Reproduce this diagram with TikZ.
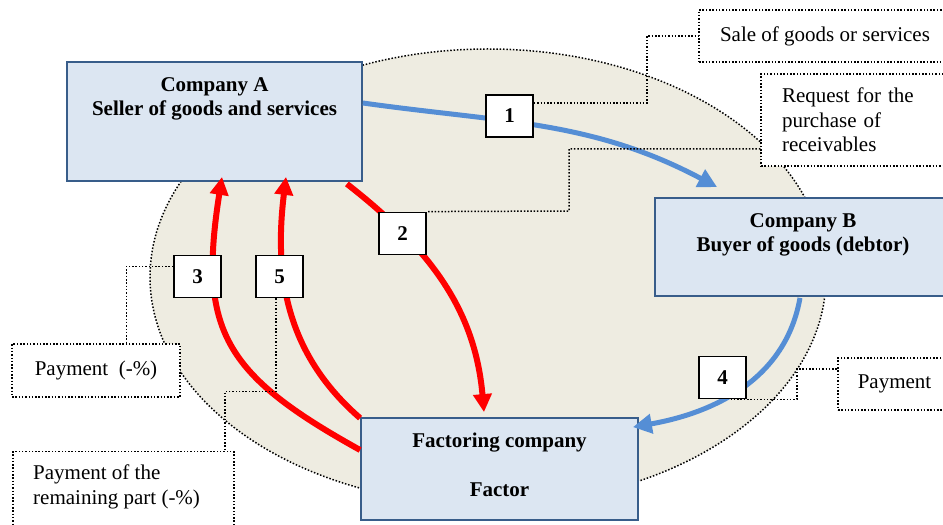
\documentclass[tikz,border=0pt]{standalone}
\usepackage{fontspec}
\setmainfont{Liberation Serif}
\usetikzlibrary{positioning,arrows.meta}

\definecolor{boxfill}{RGB}{220,230,242}
\definecolor{boxline}{RGB}{56,93,138}
\definecolor{ovalfill}{RGB}{238,236,225}
\definecolor{flowblue}{RGB}{85,142,213}

\begin{document}
\begin{tikzpicture}[x=1pt, y=1pt,
  company/.style={draw=boxline, fill=boxfill, line width=1.8pt, inner sep=0pt},
  boxtitle/.style={inner sep=0pt, align=center, font=\fontsize{21}{24.5}\selectfont\bfseries},
  numbox/.style={draw, fill=white, line width=1.8pt, minimum width=47pt, minimum height=42pt, inner sep=0pt, font=\fontsize{21}{24.5}\selectfont\bfseries},
  note/.style={draw, fill=white, line width=1.5pt, dash pattern=on 1.5pt off 1.8pt, font=\fontsize{21}{24.5}\selectfont},
  lead/.style={line width=1.5pt, dash pattern=on 1.5pt off 1.8pt},
  bluearrow/.style={flowblue, line width=5pt, -{Triangle[length=19pt, width=19pt]}},
  redarrow/.style={red, line width=6pt, -{Triangle[length=18pt, width=18pt]}}]

\useasboundingbox (0,0) rectangle (943,525);

% oval in the back
\draw [lead, fill=ovalfill] (488,248) ellipse [x radius=338, y radius=228];

% the three companies
\node [company, minimum width=295pt, minimum height=119pt] (compA) at (214.5,403.5) {};
\node [boxtitle, below=16pt of compA.north] (compAtext) {Company A\\Seller of goods and services};

\node [company, minimum width=296pt, minimum height=98pt] (compB) at (803,278) {};
\node [boxtitle, below=16pt of compB.north] (compBtext) {Company B\\Buyer of goods (debtor)};

\node [company, minimum width=277pt, minimum height=102pt] (factor) at (499.5,56) {};
\node [boxtitle, below=16pt of factor.north] (factortext) {Factoring company\\[24.5pt]Factor};

% flows
\draw [bluearrow] ([yshift=18.5pt]compA.east) to[out=-8, in=152] ([xshift=63pt, yshift=10pt]compB.north west);
\draw [bluearrow] ([xshift=-3pt, yshift=-1pt]compB.south) to[out=-100, in=10] ([xshift=-6pt, yshift=-10pt]factor.north east);
\draw [redarrow] ([xshift=-16pt, yshift=-2pt]compA.south east) to[out=-38, in=95] ([xshift=-15.5pt, yshift=5pt]factor.north);
\draw [redarrow] ([yshift=19pt]factor.west) to[out=151, in=-99, looseness=1.3] ([xshift=7.5pt, yshift=5pt]compA.south);
\draw [redarrow] ([yshift=-1pt]factor.north west) to[out=139, in=-97] ([xshift=71.5pt, yshift=5pt]compA.south);

% step numbers
\node [numbox] (n1) at (509.5,409) {1};
\node [numbox] (n2) at (402.5,291.5) {2};
\node [numbox] (n3) at (197.5,248.5) {3};
\node [numbox] (n5) at (279.5,248.5) {5};
\node [numbox] (n4) at (722.5,147.5) {4};

% explanations
\node [note, minimum width=252pt, minimum height=52pt] (sale) at (825,489) {Sale of goods or services};
\node [note, minimum height=92pt, text width=150pt, align=left, inner xsep=21pt] (request) at (857,405) {Request for the\\purchase of\\receivables};
\node [note, minimum width=168pt, minimum height=53pt] (pay3) at (96,154.5) {Payment\ \ (-\%)};
\node [note, minimum width=113pt, minimum height=52pt] (pay4) at (894.5,141) {Payment};
\node [note, anchor=north west, minimum width=221pt, minimum height=100pt] (pay5box) at (12,74) {};
\node [anchor=north west, inner sep=0pt, align=left, font=\fontsize{21}{24.5}\selectfont] (pay5) at ([xshift=21pt, yshift=-14pt]pay5box.north west) {Payment of the\\remaining part (-\%)};

\draw [lead] ([yshift=13pt]n1.east) -- (647,422) |- (sale.west);
\draw [lead] ([yshift=-29pt]request.west) -| (569,314) -- (n2.north east);
\draw [lead] ([yshift=10pt]n3.west) -| ([xshift=115pt]pay3.north west);
\draw [lead] ([xshift=-3.5pt]n5.south) -- ++(0,-93) -| ([xshift=213pt]pay5box.north west);
\draw [lead] ([xshift=8pt]n4.south) -- ++(66.5,0) |- ([yshift=15pt]pay4.west);

\end{tikzpicture}
\end{document}
